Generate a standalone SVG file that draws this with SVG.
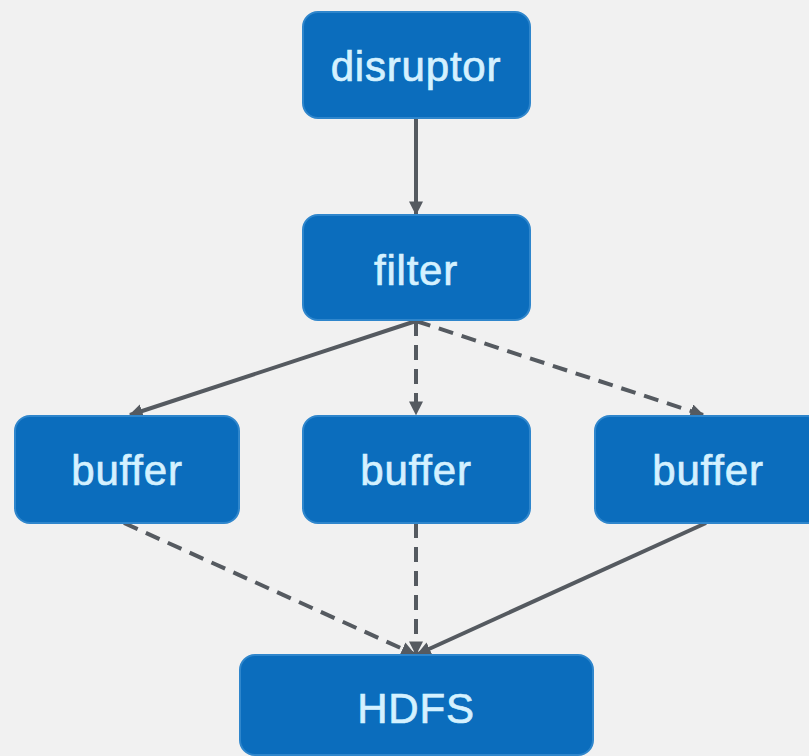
<svg xmlns="http://www.w3.org/2000/svg" width="809" height="756" viewBox="0 0 809 756">
  <style>
    .box { fill: #0b6dbd; stroke: #2f86cc; stroke-width: 2; }
    .label { font-family: "Liberation Sans", Arial, sans-serif; font-size: 42px; letter-spacing: 0.8px; fill: #d4f1ff; stroke: #d4f1ff; stroke-width: 0.7; text-anchor: middle; }
    .edge { stroke: #555a60; stroke-width: 4; fill: none; }
    .dash { stroke-dasharray: 15 9; }
  </style>
  <defs>
    <marker id="arrow" viewBox="0 0 10 10" refX="9" refY="5" markerWidth="3.5" markerHeight="3.5" orient="auto" markerUnits="strokeWidth">
      <path d="M0,0 L10,5 L0,10 z" fill="#555a60"/>
    </marker>
  </defs>
  <rect width="809" height="756" fill="#f1f1f1"/>

  <!-- links between stages -->
  <g id="connectors">
    <line class="edge" x1="416" y1="118" x2="416" y2="214" marker-end="url(#arrow)"/>
    <line class="edge" x1="416" y1="321" x2="130" y2="415" marker-end="url(#arrow)"/>
    <line class="edge dash" x1="416" y1="321" x2="416" y2="414" marker-end="url(#arrow)"/>
    <line class="edge dash" x1="416" y1="321" x2="703" y2="415" marker-end="url(#arrow)"/>
    <line class="edge dash" x1="124" y1="523" x2="414" y2="654" marker-end="url(#arrow)"/>
    <line class="edge dash" x1="416" y1="523" x2="416" y2="654" marker-end="url(#arrow)"/>
    <line class="edge" x1="706" y1="523" x2="418" y2="654" marker-end="url(#arrow)"/>
  </g>

  <g id="disruptor">
    <rect class="box" x="303" y="12" width="227" height="106" rx="15"/>
    <text class="label" x="416" y="81">disruptor</text>
  </g>
  <g id="filter">
    <rect class="box" x="303" y="215" width="227" height="105" rx="15"/>
    <text class="label" x="416" y="285">filter</text>
  </g>
  <g id="buffer-left">
    <rect class="box" x="15" y="416" width="224" height="107" rx="15"/>
    <text class="label" x="127" y="485">buffer</text>
  </g>
  <g id="buffer-middle">
    <rect class="box" x="303" y="416" width="227" height="107" rx="15"/>
    <text class="label" x="416" y="485">buffer</text>
  </g>
  <g id="buffer-right">
    <rect class="box" x="595" y="416" width="227" height="107" rx="15"/>
    <text class="label" x="708" y="485">buffer</text>
  </g>
  <g id="hdfs">
    <rect class="box" x="240" y="655" width="353" height="100" rx="15"/>
    <text class="label" x="416" y="723">HDFS</text>
  </g>
</svg>
